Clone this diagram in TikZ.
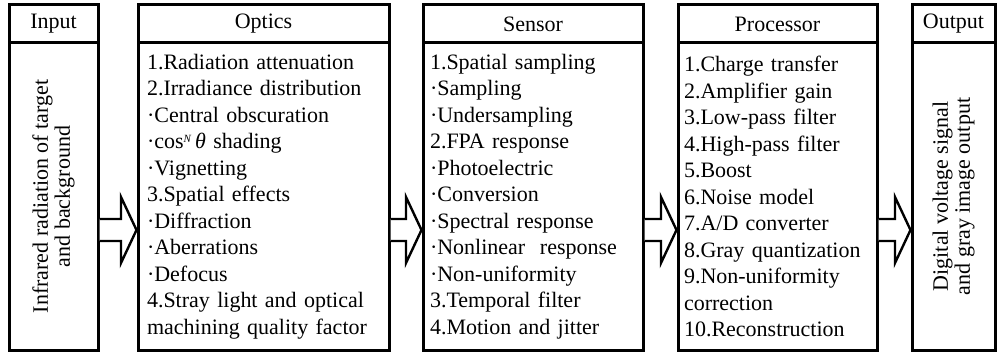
\documentclass[tikz,border=0pt]{standalone}
\usepackage{fontspec}
\setmainfont{Liberation Serif}
\usetikzlibrary{calc}

\begin{document}
\begin{tikzpicture}[x=0.5pt, y=-0.5pt,
		box/.style = {draw, line width=1.5pt, inner sep=0pt, outer sep=0pt},
		txt/.style = {font=\fontsize{11pt}{13.25pt}\selectfont},
		items/.style = {box, txt, align=left, minimum height=153.5pt},
		hollow/.style = {draw, fill=white, line width=1.2pt, line join=miter}]
	\useasboundingbox (0,0) rectangle (997,353);
	\foreach \n/\x/\w/\t in {input/53.5/44.5/Input, optics/263.5/125.5/Optics, sensor/533/110/Sensor, proc/777.5/99.5/Processor, output/953.5/41.5/Output}{
		\node[box, txt, minimum width=\w pt, minimum height=19pt] (\n-h) at (\x,24) {\t};
	}
	\node[box, minimum width=44.5pt, minimum height=153.5pt] (input) at (53.5,196.5) {};
	\node[txt, rotate=90, align=center, inner sep=0pt, font=\fontsize{11pt}{11pt}\selectfont] (input-t) at (input.center) {Infrared radiation of target\\and background};
	\node[items, text width=116.5pt, inner xsep=4.5pt] (optics) at (263.5,196.5) {1.Radiation attenuation\\2.Irradiance distribution\\·Central obscuration\\·cos\raisebox{0.6ex}{\fontsize{5.5pt}{5.5pt}\selectfont\textit{N}}\,\textit{θ} shading\\·Vignetting\\3.Spatial effects\\·Diffraction\\·Aberrations\\·Defocus\\4.Stray light and optical\\machining quality factor};
	\node[items, text width=103pt, inner xsep=3.5pt] (sensor) at (533,196.5) {1.Spatial sampling\\·Sampling\\·Undersampling\\2.FPA response\\·Photoelectric\\·Conversion\\·Spectral response\\·Nonlinear~ response\\·Non-uniformity\\3.Temporal filter\\4.Motion and jitter};
	\node[items, text width=93.5pt, inner xsep=3pt] (proc) at (777.5,196.5) {1.Charge transfer\\2.Amplifier gain\\3.Low-pass filter\\4.High-pass filter\\5.Boost\\6.Noise model\\7.A/D converter\\8.Gray quantization\\9.Non-uniformity\\correction\\10.Reconstruction};
	\node[box, minimum width=41.5pt, minimum height=153.5pt] (output) at (953.5,196.5) {};
	\node[txt, rotate=90, align=center, inner sep=0pt, font=\fontsize{11pt}{11pt}\selectfont] (output-t) at (output.center) {Digital voltage signal\\and gray image output};
	\coordinate (ay) at (0,230);
	\foreach \a/\b in {input/optics, optics/sensor, sensor/proc, proc/output}{
		\draw[hollow] ($(\a.east |- ay)+(1.5,-11)$) -- ($(\b.west |- ay)+(-17,-11)$) -- ++(0,-22) -- ($(\b.west |- ay)+(-1.5,0)$) -- ($(\b.west |- ay)+(-17,33)$) -- ++(0,-22) -- ($(\a.east |- ay)+(1.5,11)$);
	}
\end{tikzpicture}
\end{document}
